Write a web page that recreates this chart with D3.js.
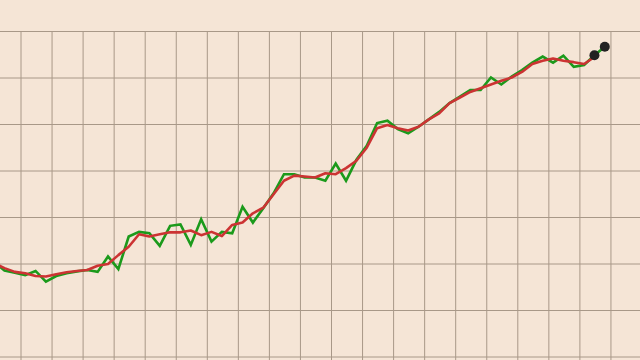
<!DOCTYPE html>
<html>
<head>
<meta charset="utf-8">
<script src="https://cdn.jsdelivr.net/npm/d3@7"></script>
<style>
  html, body { margin: 0; padding: 0; background: #f5e5d6; }
  svg { display: block; }
  .grid line { stroke: #a89888; stroke-width: 1; }
  .grid path { display: none; }
</style>
</head>
<body>
<div id="chart"></div>
<script>
var width = 640, height = 360;

// period index for each observation (first one sits just off the left edge)
var periods = d3.range(-1, 59);

// raw series (green)
var rawValues = [20.3, 18.5, 18.0, 17.5, 18.4, 16.1, 17.3, 17.9, 18.3, 18.6,
                 18.2, 21.5, 18.8, 25.8, 26.8, 26.5, 23.8, 28.1, 28.4, 24.0,
                 29.5, 24.7, 26.8, 26.5, 32.2, 28.8, 31.9, 35.1, 39.2, 39.2,
                 38.5, 38.5, 37.8, 41.5, 37.8, 42.3, 45.3, 50.2, 50.7, 48.9,
                 48.0, 49.4, 51.0, 52.6, 54.5, 55.9, 57.3, 57.3, 60.0, 58.5,
                 60.2, 61.6, 63.2, 64.5, 63.2, 64.7, 62.3, 62.7, 64.8, 66.6];

// smoothed series (red), one shorter than the raw one
var smoothValues = [20.1, 19.0, 18.2, 17.9, 17.3, 17.2, 17.7, 18.1, 18.4, 18.6,
                    19.5, 19.9, 21.8, 23.6, 26.3, 25.8, 26.3, 26.7, 26.7, 27.1,
                    26.1, 26.8, 25.9, 28.3, 28.8, 30.8, 32.0, 34.9, 37.8, 38.9,
                    38.7, 38.5, 39.4, 39.2, 40.5, 42.1, 44.9, 49.1, 49.8, 49.1,
                    48.6, 49.4, 51.0, 52.3, 54.5, 55.7, 56.9, 57.7, 58.5, 59.3,
                    60.0, 61.2, 62.9, 63.6, 64.1, 63.6, 63.3, 62.9, 64.4];

// highlighted last two observations
var markerPeriods = [57, 58];

// grid positions
var gridX = d3.range(-1.454, 60, 3);
var gridY = d3.range(0, 71, 10);

var svg = d3.select("#chart").append("svg")
    .attr("width", width)
    .attr("height", height);

svg.append("rect")
    .attr("width", width)
    .attr("height", height)
    .attr("fill", "#f5e5d6");

var xScale = d3.scaleLinear().domain([-1, 58]).range([-5.85, 604.8]),
    yScale = d3.scaleLinear().domain([0, 70]).range([356.5, 31]);

// vertical grid
svg.append("g")
    .attr("class", "grid")
    .attr("transform", "translate(0,31)")
    .call(d3.axisBottom(xScale).tickValues(gridX).tickSize(340).tickFormat(""));

// horizontal grid
svg.append("g")
    .attr("class", "grid")
    .call(d3.axisRight(yScale).tickValues(gridY).tickSize(width).tickFormat(""));

var rawLine = d3.line()
    .x(function(d, i) { return xScale(periods[i]); })
    .y(function(d) { return yScale(d); });

svg.append("path")
    .datum(rawValues)
    .attr("d", rawLine)
    .attr("fill", "none")
    .attr("stroke", "#1b9a1b")
    .attr("stroke-width", 2.6)
    .attr("stroke-linejoin", "miter");

svg.append("path")
    .datum(smoothValues)
    .attr("d", rawLine)
    .attr("fill", "none")
    .attr("stroke", "#cc3333")
    .attr("stroke-width", 2.6)
    .attr("stroke-linejoin", "round");

svg.selectAll(".marker")
    .data(markerPeriods)
    .enter().append("circle")
    .attr("class", "marker")
    .attr("cx", function(d) { return xScale(d); })
    .attr("cy", function(d) { return yScale(rawValues[periods.indexOf(d)]); })
    .attr("r", 5)
    .attr("fill", "#222222");
</script>
</body>
</html>
